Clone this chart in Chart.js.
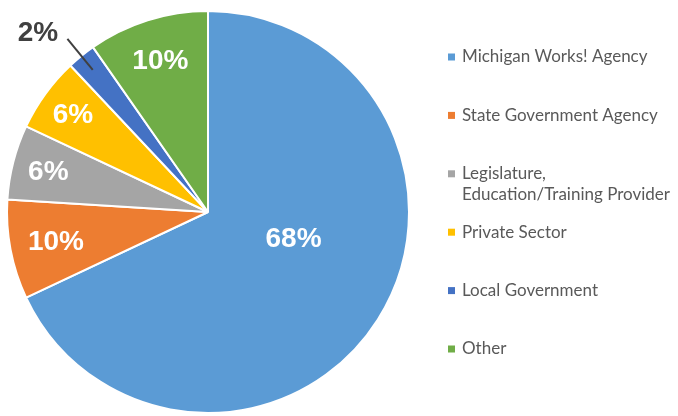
<!DOCTYPE html>
<html lang="en">
<head>
<meta charset="UTF-8">
<title>Pie</title>
<script src="https://cdn.jsdelivr.net/npm/chart.js"></script>
<style>
    html, body { margin: 0; padding: 0; background: #fff; }
    #wrap { width: 678px; height: 416px; }
</style>
</head>
<body>
<div id="wrap"><canvas id="myPie" width="678" height="416"></canvas></div>
<script>
// data
var categories = ['Michigan Works! Agency', 'State Government Agency', 'Legislature,\nEducation/Training Provider', 'Private Sector', 'Local Government', 'Other'];
var shares = [68, 8, 6, 6, 2.3, 9.7];
var shareLabels = ['68%', '10%', '6%', '6%', '2%', '10%'];
var sliceColors = ['#5B9BD5', '#ED7D31', '#A5A5A5', '#FFC000', '#4472C4', '#70AD47'];

// where each label sits, as fraction of radius and shift from mid angle (deg)
var labelRadius = [0.445, 0.77, 0.82, 0.83, 1.23, 0.79];
var labelShift = [-15.4, 0, 0, 0, -4.4, 0];

var sliceLabels = {
    id: 'sliceLabels',
    afterDatasetsDraw: function (chart) {
        var ctx = chart.ctx;
        var arcs = chart.getDatasetMeta(0).data;
        ctx.save();
        ctx.font = 'bold 28px "Liberation Sans", Arial, sans-serif';
        ctx.textAlign = 'center';
        ctx.textBaseline = 'middle';
        arcs.forEach(function (arc, i) {
            var mid = (arc.startAngle + arc.endAngle) / 2;
            var a = mid + labelShift[i] * Math.PI / 180;
            var r = arc.outerRadius * labelRadius[i];
            var x = arc.x + Math.cos(a) * r;
            var y = arc.y + Math.sin(a) * r;
            if (labelRadius[i] > 1) {
                // outside label with a leader line
                ctx.strokeStyle = '#404040';
                ctx.lineWidth = 2;
                ctx.beginPath();
                ctx.moveTo(arc.x + Math.cos(mid) * arc.outerRadius * 0.91, arc.y + Math.sin(mid) * arc.outerRadius * 0.91);
                ctx.lineTo(arc.x + Math.cos(mid) * arc.outerRadius * 1.11, arc.y + Math.sin(mid) * arc.outerRadius * 1.11);
                ctx.stroke();
                ctx.fillStyle = '#404040';
            } else {
                ctx.fillStyle = '#ffffff';
            }
            ctx.fillText(shareLabels[i], x, y + 1);
        });
        ctx.restore();
    }
};

var sideLegend = {
    id: 'sideLegend',
    afterDraw: function (chart) {
        var ctx = chart.ctx;
        var x0 = 448, y0 = 57, step = 58.4, lineH = 21;
        ctx.save();
        ctx.font = '17px Lato, "Open Sans", sans-serif';
        ctx.textBaseline = 'middle';
        ctx.textAlign = 'left';
        categories.forEach(function (name, i) {
            var y = y0 + i * step;
            ctx.fillStyle = sliceColors[i];
            ctx.fillRect(x0, y - 3.5, 7, 7);
            ctx.fillStyle = '#595959';
            name.split('\n').forEach(function (line, j) {
                ctx.fillText(line, x0 + 14, y + j * lineH);
            });
        });
        ctx.restore();
    }
};

var ctx = document.getElementById('myPie').getContext('2d');
var myPie = new Chart(ctx, {
    type: 'pie',
    data: {
        labels: categories,
        datasets: [{
            data: shares,
            backgroundColor: sliceColors,
            borderColor: '#ffffff',
            borderWidth: 2
        }]
    },
    options: {
        responsive: false,
        animation: false,
        layout: { padding: { left: 6, top: 10, right: 268, bottom: 2 } },
        plugins: {
            legend: { display: false },
            tooltip: { enabled: false }
        }
    },
    plugins: [sliceLabels, sideLegend]
});
</script>
</body>
</html>
